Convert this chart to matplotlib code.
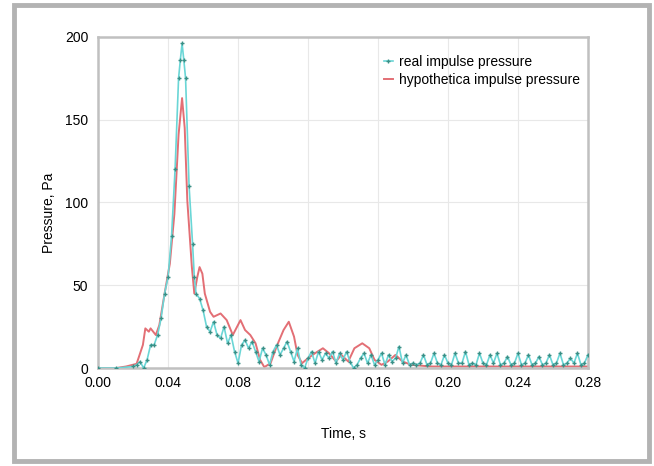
import matplotlib
matplotlib.use("Agg")
import matplotlib.pyplot as plt
from matplotlib.patches import Rectangle

plt.rcParams['font.family'] = ['Liberation Sans', 'DejaVu Sans']

# real impulse pressure (measured)
t_real = [0.000, 0.010, 0.020, 0.022, 0.024, 0.026, 0.028, 0.030, 0.032, 0.034,
          0.036, 0.038, 0.040, 0.042, 0.044, 0.046, 0.047, 0.048, 0.049, 0.050,
          0.052, 0.054, 0.055, 0.056, 0.058, 0.060, 0.062, 0.064, 0.066, 0.068,
          0.070, 0.072, 0.074, 0.076, 0.078, 0.080, 0.082, 0.084, 0.086, 0.088,
          0.090, 0.092, 0.094, 0.096, 0.098, 0.100, 0.102, 0.104, 0.106, 0.108,
          0.110, 0.112, 0.114, 0.116, 0.118, 0.120, 0.122, 0.124, 0.126, 0.128,
          0.130, 0.132, 0.134, 0.136, 0.138, 0.140, 0.142, 0.144, 0.146, 0.148,
          0.150, 0.152, 0.154, 0.156, 0.158, 0.160, 0.162, 0.164, 0.166, 0.168,
          0.170, 0.172, 0.174, 0.176, 0.178,
          0.180, 0.182, 0.184, 0.186, 0.188, 0.190, 0.192, 0.194, 0.196, 0.198,
          0.200, 0.202, 0.204, 0.206, 0.208, 0.210, 0.212, 0.214, 0.216, 0.218,
          0.220, 0.222, 0.224, 0.226, 0.228, 0.230, 0.232, 0.234, 0.236, 0.238,
          0.240, 0.242, 0.244, 0.246, 0.248, 0.250, 0.252, 0.254, 0.256, 0.258,
          0.260, 0.262, 0.264, 0.266, 0.268, 0.270, 0.272, 0.274, 0.276, 0.278,
          0.280]
p_real = [0, 0, 1, 2, 4, 0, 5, 14, 14, 20,
          30, 45, 55, 80, 120, 175, 186, 196, 186, 175,
          110, 75, 55, 45, 42, 35, 25, 22, 28, 20,
          18, 25, 15, 20, 10, 3, 14, 17, 12, 16,
          10, 4, 12, 8, 2, 10, 14, 8, 12, 16,
          10, 4, 12, 2, 0, 6, 10, 3, 10, 5,
          9, 6, 10, 3, 9, 5, 10, 4, 0, 2,
          6, 9, 3, 8, 2, 5, 9, 2, 8, 4,
          6, 13, 3, 8, 2,
          3, 2, 3, 8, 2, 3, 9, 3, 2, 8,
          3, 2, 9, 3, 3, 10, 2, 3, 2, 9,
          3, 2, 8, 3, 9, 2, 3, 7, 2, 3,
          9, 2, 3, 8, 2, 3, 7, 2, 3, 8,
          2, 3, 9, 2, 3, 6, 3, 9, 2, 3,
          8]

# hypothetical impulse pressure (model)
t_hyp = [0.000, 0.010, 0.016, 0.022, 0.0256, 0.027, 0.029, 0.030, 0.033, 0.035,
         0.038, 0.041, 0.0436, 0.046, 0.048, 0.0495, 0.051, 0.0536, 0.055, 0.0567,
         0.058, 0.0596, 0.061, 0.064, 0.066, 0.070, 0.0735, 0.077, 0.0814, 0.084,
         0.087, 0.090, 0.0926, 0.095, 0.0986, 0.102, 0.106, 0.109, 0.112, 0.114,
         0.1166, 0.120, 0.124, 0.1285, 0.132, 0.136, 0.139, 0.143, 0.1465, 0.151,
         0.155, 0.158, 0.162, 0.1656, 0.170, 0.174, 0.179, 0.190, 0.210, 0.230,
         0.250, 0.270, 0.280]
p_hyp = [0, 0, 1, 2.6, 14, 24, 22, 24, 20, 26,
         45, 63, 93, 141, 163, 145, 101, 61, 45, 55,
         61, 57, 45, 34, 31, 33, 29, 20, 29, 23,
         20, 15, 5, 0.6, 3, 13, 23, 28, 19, 8,
         3, 6, 9, 12, 9, 4, 8, 4, 12, 15,
         12, 5, 2, 4, 8, 4, 2, 1, 1, 1,
         1, 1, 1]

x_ticks = [0.00, 0.04, 0.08, 0.12, 0.16, 0.20, 0.24, 0.28]
y_ticks = [0, 50, 100, 150, 200]

fig = plt.figure(figsize=(6.54, 4.66), dpi=100)
ax = fig.add_axes([0.150, 0.210, 0.749, 0.711])

ax.plot(t_real, p_real, color='#6ad6d6', lw=1.2, marker='+', ms=3.5,
        mec='#3a8f86', mew=1.0, label='real impulse pressure', zorder=3)
ax.plot(t_hyp, p_hyp, color='#e05f66', lw=1.4, alpha=0.9,
        label='hypothetica impulse pressure', zorder=2)

ax.set_xlim(0, 0.28)
ax.set_ylim(0, 200)
ax.set_xticks(x_ticks)
ax.set_xticklabels(['%.2f' % v for v in x_ticks])
ax.set_yticks(y_ticks)
ax.tick_params(labelsize=10, length=0)
ax.tick_params(axis='x', pad=6)
ax.tick_params(axis='y', pad=7)
ax.grid(True, color='#e8e8e8', lw=0.8)
for s in ax.spines.values():
    s.set_color('#c0c0c0')
    s.set_linewidth(1.8)

ax.set_xlabel('Time, s', fontsize=10, labelpad=26)
ax.set_ylabel('Pressure, Pa', fontsize=10)
ax.yaxis.set_label_coords(-0.085, 0.47)

leg = ax.legend(loc='upper left', bbox_to_anchor=(0.584, 0.945), frameon=False,
                fontsize=10, handlelength=0.6, handletextpad=0.5,
                labelspacing=0.25, borderpad=0, borderaxespad=0)

# outer grey frame
fig.patches.append(Rectangle((0.022, 0.010), 0.970, 0.980,
                             transform=fig.transFigure, fill=False,
                             edgecolor='#b3b3b3', lw=3.5))

fig.savefig('out.png', dpi=100)
